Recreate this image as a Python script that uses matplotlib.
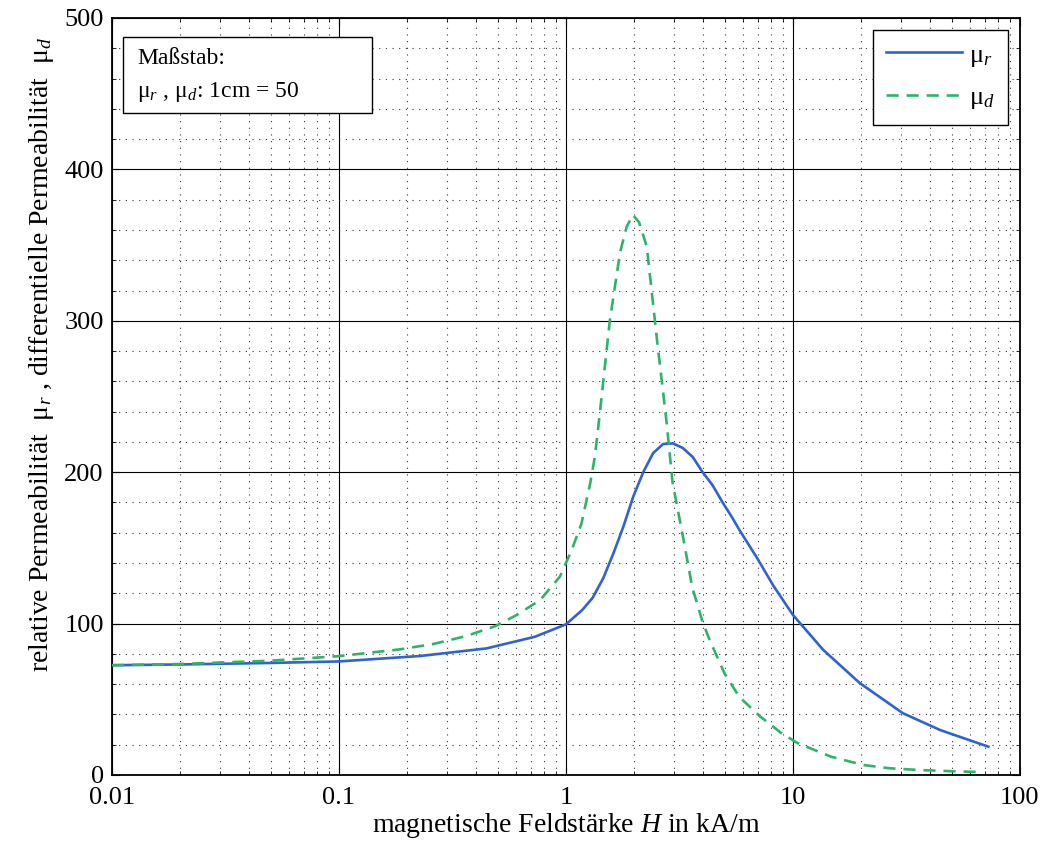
import matplotlib
matplotlib.use('Agg')
import matplotlib.pyplot as plt
from matplotlib.patches import Rectangle
from matplotlib.ticker import FixedLocator, NullFormatter

plt.rcParams['font.family'] = 'Liberation Serif'
plt.rcParams['font.size'] = 20
plt.rcParams['mathtext.fontset'] = 'custom'
plt.rcParams['mathtext.rm'] = 'Liberation Serif'
plt.rcParams['mathtext.it'] = 'Liberation Serif:italic'

# relative permeability mu_r
h_r = [0.01, 0.02, 0.05, 0.1, 0.228, 0.446, 0.73, 1.0, 1.07, 1.18, 1.31, 1.46,
       1.62, 1.79, 1.98, 2.19, 2.42, 2.68, 2.96, 3.27, 3.62, 4.0, 4.42, 4.9,
       5.4, 5.8, 6.97, 8.2, 10, 13.6, 19.7, 30.5, 44.5, 72.6]
mu_r = [72.5, 73, 74, 75, 78.6, 83.6, 91.3, 99.5, 103.4, 109, 117, 130,
        146.6, 164, 184, 200, 212.6, 218.6, 219, 216, 210, 200, 191.5, 180,
        170, 162, 143, 125, 105.7, 82.6, 60.7, 40.8, 29.7, 18.7]

# differential permeability mu_d
h_d = [0.01, 0.02, 0.05, 0.1, 0.132, 0.186, 0.26, 0.364, 0.49, 0.607, 0.77,
       0.94, 1.06, 1.17, 1.28, 1.34, 1.41, 1.56, 1.73, 1.85, 1.97, 2.1, 2.27,
       2.52, 2.77, 2.95, 3.3, 3.6, 4.0, 4.3, 5.0, 5.8, 7.2, 8.9, 10.5, 14.7,
       20.4, 26.8, 37, 50, 65]
mu_d = [72.5, 73.3, 75.5, 78.5, 80.5, 83, 86.5, 91.8, 98.4, 105.7, 115.6,
        131, 148.6, 166, 193, 210, 239, 300, 345, 362, 370, 365, 349,
        287, 234, 193, 155, 124, 101, 89, 67, 51.6, 38.4, 27.6, 21, 12.1,
        6.6, 4.4, 3.2, 2.5, 2]

x_ticks = [0.01, 0.1, 1, 10, 100]
x_labels = ['0.01', '0.1', '1', '10', '100']
y_ticks = [0, 100, 200, 300, 400, 500]

fig = plt.figure(figsize=(10.45, 8.48), dpi=100)
ax = fig.add_axes([0.1072, 0.0861, 0.8688, 0.8927])

ax.plot(h_r, mu_r, color='#2f62d3', linewidth=1.9, label=r'$\mathrm{\mu}_{r}$', zorder=5)
ax.plot(h_d, mu_d, color='#2eb46a', linewidth=1.9, dashes=(4.6, 3),
        label=r'$\mathrm{\mu}_{d}$', zorder=5)

ax.set_xscale('log')
ax.set_xlim(0.01, 100)
ax.set_ylim(0, 500)
ax.xaxis.set_major_locator(FixedLocator(x_ticks))
ax.set_xticklabels(x_labels)
ax.xaxis.set_minor_locator(FixedLocator([m * d for d in [0.01, 0.1, 1, 10] for m in range(2, 10)]))
ax.xaxis.set_minor_formatter(NullFormatter())
ax.set_yticks(y_ticks)
ax.yaxis.set_minor_locator(FixedLocator([v for v in range(0, 501, 20) if v % 100]))

ax.grid(which='major', color='black', linestyle='-', linewidth=0.8)
ax.grid(which='minor', color='#333333', linestyle=(0, (1, 5)), linewidth=0.8)
ax.tick_params(which='both', direction='in', top=True, right=True, labelsize=19)
ax.tick_params(which='major', length=6)
ax.tick_params(which='minor', length=3)
ax.tick_params(axis='x', pad=9)
ax.tick_params(axis='y', pad=6)
for s in ax.spines.values():
    s.set_linewidth(1.3)

ax.set_xlabel(r'magnetische Feldstärke $\it{H}$ in kA/m', fontsize=20, labelpad=1)
ax.set_ylabel(r'relative Permeabilität  $\mathrm{\mu}_{r}$ , differentielle Permeabilität  $\mathrm{\mu}_{d}$',
              fontsize=20)
ax.yaxis.set_label_coords(-0.062, 0.555)

# scale note box
ax.add_patch(Rectangle((0.0121, 0.8745), 0.2742, 0.1004, transform=ax.transAxes,
                       facecolor='white', edgecolor='black', linewidth=1, zorder=10))
ax.text(0.0275, 0.9465, 'Maßstab:', transform=ax.transAxes, fontsize=17,
        va='center', ha='left', zorder=11)
ax.text(0.0275, 0.9020, r'$\mathrm{\mu}_{r}$ , $\mathrm{\mu}_{d}$: 1cm = 50', transform=ax.transAxes,
        fontsize=17, va='center', ha='left', zorder=11)

leg = ax.legend(loc='upper right', fontsize=19, fancybox=False, framealpha=1,
                edgecolor='black', handlelength=2.9, handletextpad=0.25, borderpad=0.5,
                labelspacing=0.65, borderaxespad=0, bbox_to_anchor=(0.9868, 0.9841))
leg.get_frame().set_linewidth(1)

fig.savefig('out.png', dpi=100)
